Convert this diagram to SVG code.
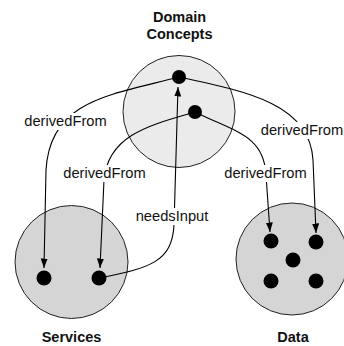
<svg xmlns="http://www.w3.org/2000/svg" width="344" height="346" viewBox="0 0 344 346">
  <defs>
    <marker id="arrow" markerUnits="userSpaceOnUse" markerWidth="10" markerHeight="8" refX="9.5" refY="3.5" orient="auto">
      <path d="M0,0 L9.5,3.5 L0,7 z" fill="#000"/>
    </marker>
    <style>
      .set { stroke: #222; stroke-width: 1; }
      .concepts { fill: #ebebeb; }
      .store { fill: #d5d5d5; }
      .dot { fill: #000; }
      .title { font-family: "Liberation Sans", Arial, Helvetica, sans-serif; font-size: 14.5px; font-weight: bold; fill: #111; text-anchor: middle; }
      .edge { fill: none; stroke: #000; stroke-width: 1.1; marker-end: url(#arrow); }
      .lbl-bg { fill: #fff; }
      .lbl { font-family: "Liberation Sans", Arial, Helvetica, sans-serif; font-size: 14.7px; fill: #111; text-anchor: middle; }
    </style>
  </defs>

  <rect width="344" height="346" fill="#fff"/>

  <!-- Domain Concepts -->
  <g id="domain-concepts">
    <circle class="set concepts" cx="179" cy="111.5" r="56"/>
    <circle class="dot" cx="179" cy="77" r="7"/>
    <circle class="dot" cx="195" cy="112" r="7"/>
    <text class="title" x="179.5" y="22">Domain</text>
    <text class="title" x="179.5" y="39">Concepts</text>
  </g>

  <!-- Services -->
  <g id="services">
    <circle class="set store" cx="71.5" cy="262" r="56.5"/>
    <circle class="dot" cx="44" cy="278" r="7.5"/>
    <circle class="dot" cx="99" cy="278" r="7.5"/>
    <text class="title" x="71.5" y="342">Services</text>
  </g>

  <!-- Data -->
  <g id="data">
    <circle class="set store" cx="292" cy="259" r="56"/>
    <circle class="dot" cx="271" cy="241" r="7.5"/>
    <circle class="dot" cx="316" cy="242" r="7.5"/>
    <circle class="dot" cx="293" cy="260" r="7.5"/>
    <circle class="dot" cx="271" cy="281" r="7.5"/>
    <circle class="dot" cx="316" cy="281" r="7.5"/>
    <text class="title" x="293" y="342">Data</text>
  </g>

  <!-- Connectors -->
  <g id="connectors">
    <path class="edge" d="M179,77 C110,95 50,100 46,170 L44,268"/>
    <path class="edge" d="M179,77 C250,92 310,105 313,160 L316,233"/>
    <path class="edge" d="M195,112 C150,125 108,135 104,180 L100,268"/>
    <path class="edge" d="M195,112 C235,132 264,135 266,175 L270,232"/>
    <path class="edge" d="M99,278 C150,268 172,262 174,225 L178,87"/>

    <rect class="lbl-bg" x="23" y="113" width="85" height="17"/>
    <text class="lbl" x="65.5" y="126">derivedFrom</text>
    <rect class="lbl-bg" x="62" y="165" width="85" height="17"/>
    <text class="lbl" x="104.5" y="178">derivedFrom</text>
    <rect class="lbl-bg" x="260" y="122" width="84" height="17"/>
    <text class="lbl" x="302" y="135">derivedFrom</text>
    <rect class="lbl-bg" x="223" y="165" width="85" height="17"/>
    <text class="lbl" x="265.5" y="178">derivedFrom</text>
    <rect class="lbl-bg" x="134" y="208" width="76" height="17"/>
    <text class="lbl" x="172" y="221">needsInput</text>
  </g>
</svg>
